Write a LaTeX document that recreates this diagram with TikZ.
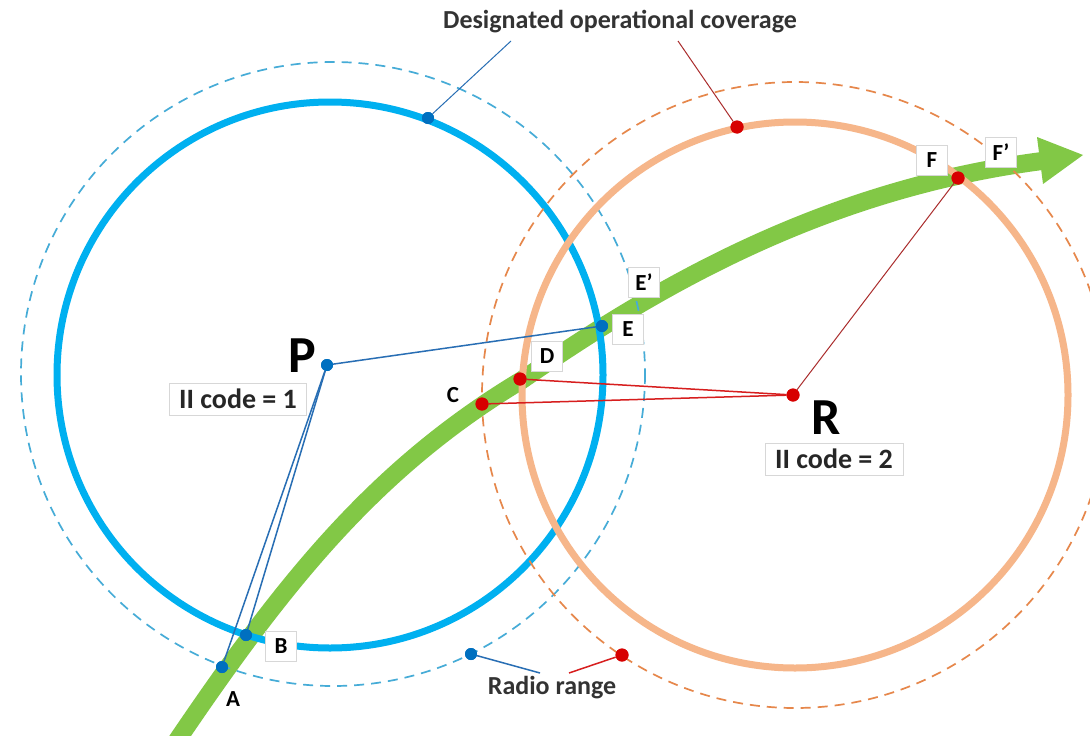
\documentclass[tikz,border=0pt]{standalone}
\usepackage{fontspec}
\setmainfont{Carlito}
\usetikzlibrary{arrows.meta}
\definecolor{blueC}{RGB}{0,176,240}
\definecolor{blueDash}{RGB}{70,172,215}
\definecolor{orangeC}{RGB}{246,182,138}
\definecolor{orangeDash}{RGB}{230,135,75}
\definecolor{greenC}{RGB}{130,200,70}
\definecolor{dotBlue}{RGB}{0,112,192}
\definecolor{dotRed}{RGB}{215,0,0}
\definecolor{lineBlue}{RGB}{40,110,180}
\definecolor{lineRed}{RGB}{215,30,30}
\definecolor{lineDRed}{RGB}{170,45,45}
\definecolor{boxGray}{RGB}{215,215,215}
\tikzset{
  bdot/.style={circle,fill=dotBlue,minimum size=12pt,inner sep=0pt},
  rdot/.style={circle,fill=dotRed,minimum size=13pt,inner sep=0pt},
  lbox/.style={draw=boxGray,fill=white,line width=1pt,font=\fontsize{23}{26}\selectfont\bfseries,inner sep=0pt,minimum width=31pt,minimum height=30pt},
  lbl/.style={font=\fontsize{23}{26}\selectfont\bfseries,inner sep=0pt},
  codebox/.style={draw=boxGray,fill=white,line width=1pt,font=\fontsize{28}{32}\selectfont\bfseries,inner sep=0pt,minimum height=32pt,text=black!85},
  big/.style={font=\fontsize{52}{56}\selectfont\bfseries,inner sep=0pt},
  callout/.style={font=\fontsize{26}{30}\selectfont\bfseries,text=black!80,inner sep=2pt},
  solidcirc/.style={line width=7pt},
  dashcirc/.style={line width=1.7pt,dash pattern=on 10pt off 7pt},
  conn/.style={line width=1.5pt}
}
\begin{document}
\begin{tikzpicture}[x=1pt,y=-1pt]
\useasboundingbox (0,0) rectangle (1090,736);
\clip (0,0) rectangle (1090,736);
\fill[white] (0,0) rectangle (1090,736);
% green trajectory arrow
\draw[greenC,line width=18pt]
  (172,748) .. controls (280,588) and (372,470) .. (522,380)
  .. controls (652,290) and (820,190) .. (1042,161);
\fill[greenC] (1083,155) -- (1037,137) -- (1043,184) -- cycle;
% coverage circles
\draw[blueC,solidcirc] (330,375) circle[radius=273];
\draw[blueDash,dashcirc] (333,374) circle[radius=312];
\draw[orangeC,solidcirc] (795,395) circle[radius=273];
\draw[orangeDash,dashcirc] (795,395) circle[radius=313];
% points
\node[bdot] (P) at (327,365) {};
\node[rdot] (R) at (793,395) {};
\node[bdot] (A) at (222,667) {};
\node[bdot] (B) at (246,635) {};
\node[rdot] (C) at (482,404) {};
\node[rdot] (D) at (520,379) {};
\node[bdot] (E) at (602,326) {};
\node[rdot] (F) at (958,178) {};
\node[bdot] (dc1) at (428,118) {};
\node[rdot] (dc2) at (737,127) {};
\node[bdot] (rr1) at (471,654) {};
\node[rdot] (rr2) at (622,655) {};
% texts
\node[callout] (dtext) at (620,22) {Designated operational coverage};
\node[callout] (rtext) at (552,688) {Radio range};
\coordinate (dcb) at (511,41);
\coordinate (dcr) at (678,41);
\coordinate (rrb) at (540,673);
\coordinate (rrr) at (569,673);
% connectors
\draw[lineBlue,line width=1pt] (dc1) -- (dcb);
\draw[lineDRed,line width=1pt] (dc2) -- (dcr);
\draw[lineBlue,line width=1.5pt] (rr1) -- (rrb);
\draw[lineRed,line width=1.5pt] (rr2) -- (rrr);
\draw[lineBlue,conn] (P) -- (E);
\draw[lineBlue,conn] (P) -- (A);
\draw[lineBlue,conn] (P) -- (B);
\draw[lineRed,conn] (R) -- (C);
\draw[lineRed,conn] (R) -- (D);
\draw[lineDRed,line width=1pt] (R) -- (F);
% redraw dots on top
\foreach \n in {P,A,B,E,dc1,rr1}{\node[bdot] at (\n) {};}
\foreach \n in {R,C,D,F,dc2,rr2}{\node[rdot] at (\n) {};}
% labels
\node[big] (Plabel) at (302,356) {P};
\node[big] (Rlabel) at (826,418) {R};
\node[codebox,minimum width=137pt] (code1) at (238,399) {II code = 1};
\node[codebox,minimum width=138pt] (code2) at (834,459) {II code = 2};
\node[lbox] (Ebox) at (628,329) {E};
\node[lbox] (Epbox) at (644,282) {E’};
\node[lbox] (Dbox) at (547,356) {D};
\node[lbox] (Bbox) at (281,646) {B};
\node[lbox] (Fbox) at (932,160) {F};
\node[lbox] (Fpbox) at (1001,152) {F’};
\node[lbl] (Alabel) at (233,699) {A};
\node[lbl] (Clabel) at (453,395) {C};
\end{tikzpicture}
\end{document}
